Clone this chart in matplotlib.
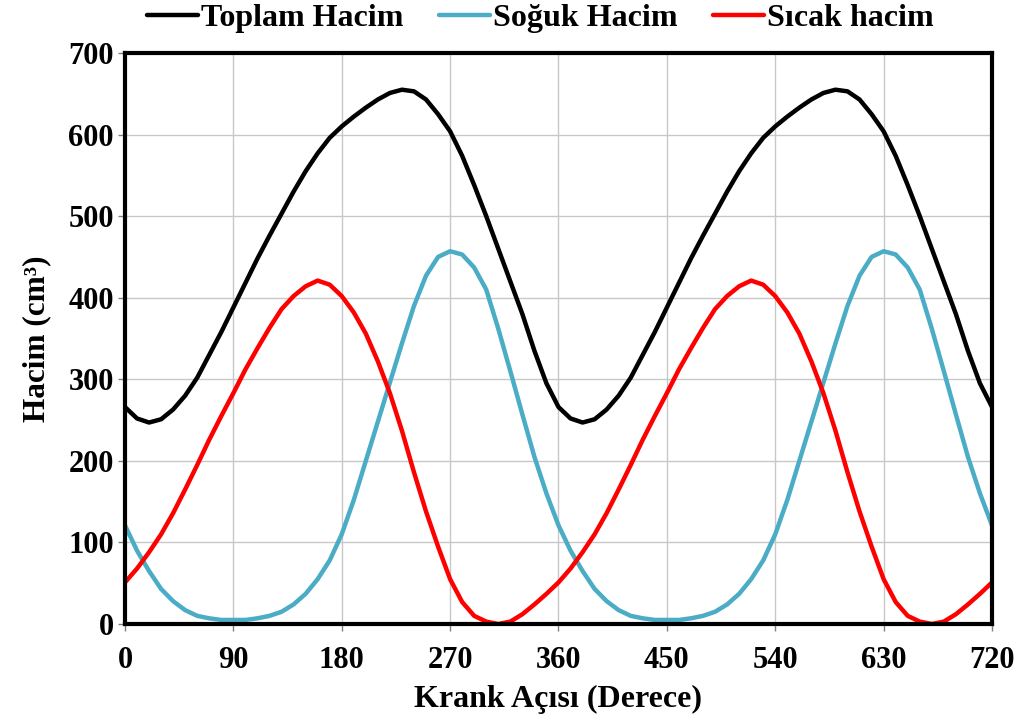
import matplotlib
matplotlib.use("Agg")
import matplotlib.pyplot as plt

plt.rcParams['font.family'] = ['Liberation Serif', 'DejaVu Serif']
plt.rcParams['font.weight'] = 'bold'

# Crank angle (degrees), read every 10 degrees
angles = list(range(0, 721, 10))

toplam_hacim = [266, 252, 247, 251, 263, 280, 302, 330, 358, 388, 418, 448, 476, 503, 530, 555, 577, 596,
                610, 622, 633, 643, 651, 655, 653, 643, 625, 604, 574, 538, 500, 460, 420, 380, 335, 295, 266,
                252, 247, 251, 263, 280, 302, 330, 358, 388, 418, 448, 476, 503, 530, 555, 577, 596,
                610, 622, 633, 643, 651, 655, 653, 643, 625, 604, 574, 538, 500, 460, 420, 380, 335, 295, 266]

soguk_hacim = [121, 90, 65, 43, 28, 17, 10, 7, 5, 5, 5, 7, 10, 15, 24, 37, 55, 78,
               110, 152, 200, 248, 296, 344, 390, 427, 450, 457, 453, 437, 410, 362, 310, 257, 205, 160, 121,
               90, 65, 43, 28, 17, 10, 7, 5, 5, 5, 7, 10, 15, 24, 37, 55, 78,
               110, 152, 200, 248, 296, 344, 390, 427, 450, 457, 453, 437, 410, 362, 310, 257, 205, 160, 121]

sicak_hacim = [51, 68, 88, 110, 136, 165, 195, 226, 255, 283, 312, 338, 363, 386, 402, 414, 421, 416,
               402, 382, 356, 322, 283, 237, 186, 138, 95, 55, 27, 10, 3, 0, 3, 12, 24, 37, 51,
               68, 88, 110, 136, 165, 195, 226, 255, 283, 312, 338, 363, 386, 402, 414, 421, 416,
               402, 382, 356, 322, 283, 237, 186, 138, 95, 55, 27, 10, 3, 0, 3, 12, 24, 37, 51]

series_labels = ["Toplam Hacim", "Soğuk Hacim", "Sıcak hacim"]
series_colors = ["#000000", "#4BACC6", "#FF0000"]

x_ticks = [0, 90, 180, 270, 360, 450, 540, 630, 720]
y_ticks = [0, 100, 200, 300, 400, 500, 600, 700]

fig = plt.figure(figsize=(10.21, 7.22), dpi=100)
ax = fig.add_axes([0.1224, 0.1357, 0.9716 - 0.1224, 0.9266 - 0.1357])

handles = []
for vals, lab, col in zip([toplam_hacim, soguk_hacim, sicak_hacim], series_labels, series_colors):
    h, = ax.plot(angles, vals, color=col, lw=3.2, label=lab, solid_capstyle='round',
                 solid_joinstyle='round', zorder=3)
    handles.append(h)

ax.set_xlim(0, 720)
ax.set_ylim(0, 700)
ax.set_xticks(x_ticks)
ax.set_yticks(y_ticks)
ax.tick_params(axis='both', labelsize=22, direction='out', length=5, width=1,
               color='#808080')
ax.tick_params(axis='x', pad=11)
ax.tick_params(axis='y', pad=3)
for lbl in ax.get_xticklabels() + ax.get_yticklabels():
    lbl.set_fontweight('bold')

ax.grid(True, color='#C8C8C8', lw=1.0)
ax.set_axisbelow(True)
for sp in ax.spines.values():
    sp.set_linewidth(3)
    sp.set_color('black')
    sp.set_zorder(4)

ax.set_xlabel("Krank Açısı (Derece)", fontsize=23, fontweight='bold', labelpad=7)
ax.set_ylabel("Hacim (cm³)", fontsize=22.5, fontweight='bold', labelpad=12)

fig.legend(handles, series_labels, loc='center', bbox_to_anchor=(0.529, 0.974),
           ncol=3, frameon=False, prop={'size': 23, 'weight': 'bold'},
           handlelength=1.6, handletextpad=0.1, columnspacing=1.1)

fig.savefig("out.png", dpi=100)
